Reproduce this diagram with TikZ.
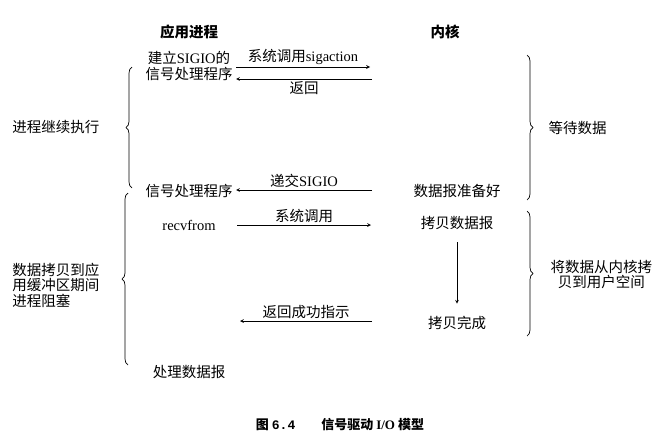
\documentclass[tikz,border=0pt]{standalone}
\usepackage{fontspec}
\setmainfont{Noto Sans CJK SC}
\newfontfamily\latin{Liberation Serif}
\newfontfamily\mono{Liberation Mono}
\usepackage{tikz}
\usetikzlibrary{positioning, decorations.pathreplacing}

\begin{document}
\begin{tikzpicture}[
    x=1pt, y=-1pt,
    txt/.style={align=center, font=\fontsize{14.5}{15.5}\selectfont},
    head/.style={txt, font=\fontsize{14.5}{15.5}\selectfont\bfseries},
    lbl/.style={txt, inner sep=2pt},
    arrow/.style={->, >=stealth, line width=0.7pt},
    brace/.style={decorate, decoration={brace, amplitude=6pt}, line width=0.7pt}
]
    \useasboundingbox (0,0) rectangle (661,442);

    \node (app) [head] at (189,32) {应用进程};
    \node (kern) [head] at (445,32) {内核};
    \node (setup) [txt, below of=app, node distance=34pt] {建立{\latin SIGIO}的\\信号处理程序};
    \node (handler) [txt, below of=setup, node distance=125pt] {信号处理程序};
    \node (recv) [txt, below of=handler, node distance=34pt] {{\latin recvfrom}};
    \node (proc) [txt, below of=recv, node distance=147pt] {处理数据报};
    \node (ready) [txt, below of=kern, node distance=159pt, xshift=12pt] {数据报准备好};
    \node (copy) [txt, below of=ready, node distance=32pt] {拷贝数据报};
    \node (done) [txt, below of=copy, node distance=100pt] {拷贝完成};
    \node (cap) [font=\fontsize{13}{15}\selectfont\bfseries] at (340,425) {图~{\mono 6.4}\qquad 信号驱动~{\latin I/O}~模型};

    \coordinate (k1) at (370,67);
    \coordinate (k2) at (372,79);
    \coordinate (k3) at (372,190);
    \coordinate (k4) at (371,224);
    \coordinate (k5) at (372,321);
    \coordinate (r5) at (240,321);

    \draw [arrow] (setup.east |- k1) -- (k1) node [lbl, midway, above] {系统调用{\latin sigaction}};
    \draw [arrow] (k2) -- (setup.east |- k2) node [lbl, midway, below] {返回};
    \draw [arrow] (k3) -- (handler.east |- k3) node [lbl, midway, above] {递交{\latin SIGIO}};
    \draw [arrow] ([xshift=18pt]recv.east) -- (recv.east -| k4) node [lbl, midway, above] {系统调用};
    \draw [arrow] (k5) -- (r5) node [lbl, midway, above] {返回成功指示};
    \draw [arrow, shorten <=9pt, shorten >=9pt] (copy) -- (done);

    \draw [brace] (132,188) -- (132,67) node [txt, midway, left=29pt] (cont) {进程继续执行};
    \draw [brace] (128,365) -- (128,193) node [txt, midway, left=25pt, yshift=-6pt, align=left] (block) {数据拷贝到应\\用缓冲区期间\\进程阻塞};
    \draw [brace] (527,55) -- (527,200) node [txt, midway, right=18pt] (wait) {等待数据};
    \draw [brace] (527,211) -- (527,336) node [txt, midway, right=20pt, yshift=-1pt] (move) {将数据从内核拷\\贝到用户空间};
\end{tikzpicture}
\end{document}
